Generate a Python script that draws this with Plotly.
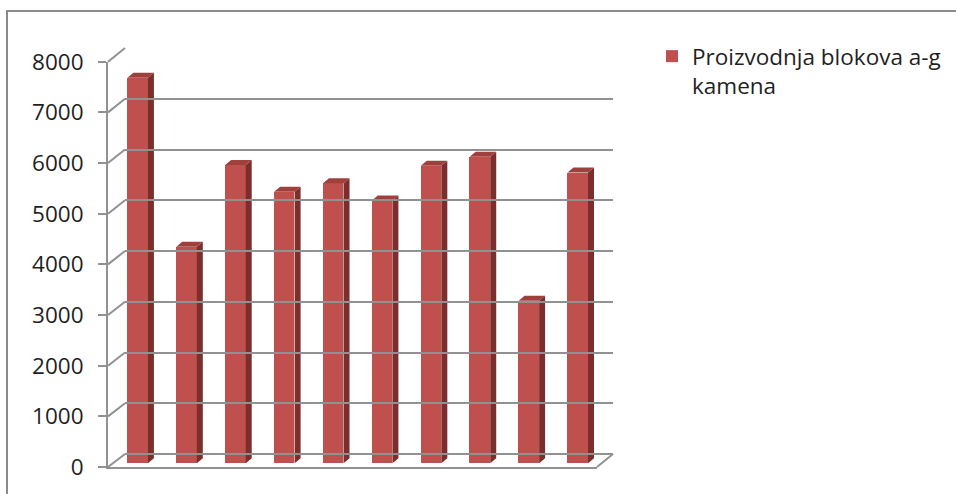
import plotly.graph_objects as go

# --- data -------------------------------------------------------------
categories = ["1", "2", "3", "4", "5", "6", "7", "8", "9", "10"]
production = [7610, 4275, 5890, 5360, 5530, 5185, 5875, 6050, 3210, 5740]
series_name = "Proizvodnja blokova a-g<br>kamena"
y_ticks = [0, 1000, 2000, 3000, 4000, 5000, 6000, 7000, 8000]

# --- page geometry (pixels) ---------------------------------------------
W, H = 956, 494
FONT = "Open Sans"


def fx(px):
    return px / W


def fy(py):
    return (H - py) / H


# floor / walls of the pseudo-3D box
FRONT_L, FRONT_R, FRONT_BOT, FRONT_TOP = 108, 597, 467, 61.7
BACK_L, BACK_R, BACK_BOT, BACK_TOP = 125, 613, 454, 48
# plane on which the column fronts stand
BAR_L, BAR_R, BAR_BOT = 113.2, 602.2, 463.3
PX_PER_UNIT_Y = (FRONT_BOT - FRONT_TOP) / y_ticks[-1]
BAR_TOP = BAR_BOT - PX_PER_UNIT_Y * y_ticks[-1]

BAR_W = 0.42
DEPTH_DX_PX, DEPTH_DY_PX = 6.0, 5.0

n = len(categories)
xpos = list(range(n))
ux = n / (BAR_R - BAR_L)          # x units per pixel
uy = y_ticks[-1] / (BAR_BOT - BAR_TOP)  # y units per pixel
ddx = DEPTH_DX_PX * ux
ddy = DEPTH_DY_PX * uy

FRONT_C = "#C0504D"
SIDE_C = "#7B2E2C"
TOP_C = "#A0403D"
GRID_C = "#919191"
TEXT_C = "#1F1F1F"

fig = go.Figure()

# column fronts
fig.add_trace(go.Bar(
    x=xpos, y=production, width=BAR_W, name=series_name,
    marker=dict(color=FRONT_C, line=dict(width=0)),
    xaxis="x", yaxis="y", showlegend=True,
))

# right-hand side faces and top caps of each column
side_x, side_y, cap_x, cap_y = [], [], [], []
for xc, v in zip(xpos, production):
    l, r = xc - BAR_W / 2, xc + BAR_W / 2
    side_x += [r, r + ddx, r + ddx, r, r, None]
    side_y += [0, ddy, v + ddy, v, 0, None]
    cap_x += [l, r, r + ddx, l + ddx, l, None]
    cap_y += [v, v, v + ddy, v + ddy, v, None]

fig.add_trace(go.Scatter(
    x=side_x, y=side_y, mode="lines", fill="toself", fillcolor=SIDE_C,
    line=dict(width=0, color=SIDE_C), hoverinfo="skip", showlegend=False,
    xaxis="x", yaxis="y",
))
fig.add_trace(go.Scatter(
    x=cap_x, y=cap_y, mode="lines", fill="toself", fillcolor=TOP_C,
    line=dict(width=0, color=TOP_C), hoverinfo="skip", showlegend=False,
    xaxis="x", yaxis="y",
))

# empty traces so the front-axis and back-wall subplots get drawn
for xa, ya in (("x2", "y2"), ("x3", "y3")):
    fig.add_trace(go.Scatter(x=[], y=[], xaxis=xa, yaxis=ya,
                             showlegend=False, hoverinfo="skip"))

# --- shapes: box outline, wall diagonals, floor edge --------------------
shapes = []
# outer chart frame
shapes.append(dict(type="rect", xref="paper", yref="paper",
                   x0=fx(7), y0=fy(H + 10), x1=fx(W + 10), y1=fy(11),
                   line=dict(color="#8A8A8A", width=2), layer="below"))
# left wall diagonals at each tick
front_step = (FRONT_BOT - FRONT_TOP) / y_ticks[-1]
back_step = (BACK_BOT - BACK_TOP) / y_ticks[-1]
for t in y_ticks:
    shapes.append(dict(type="line", xref="paper", yref="paper",
                       x0=fx(FRONT_L), y0=fy(FRONT_BOT - t * front_step),
                       x1=fx(BACK_L), y1=fy(BACK_BOT - t * back_step),
                       line=dict(color=GRID_C, width=2), layer="below"))
# right floor diagonal
shapes.append(dict(type="line", xref="paper", yref="paper",
                   x0=fx(FRONT_R), y0=fy(FRONT_BOT),
                   x1=fx(BACK_R), y1=fy(BACK_BOT),
                   line=dict(color=GRID_C, width=2), layer="below"))

fig.update_layout(
    width=W, height=H,
    margin=dict(l=0, r=0, t=0, b=0, autoexpand=False),
    paper_bgcolor="white", plot_bgcolor="rgba(0,0,0,0)",
    bargap=0,
    shapes=shapes,
    showlegend=True,
    legend=dict(
        x=fx(652), y=fy(35), xanchor="left", yanchor="top", valign="top",
        font=dict(family=FONT, size=22.5, color=TEXT_C),
        bgcolor="rgba(0,0,0,0)", borderwidth=0,
    ),
    # column plane
    xaxis=dict(domain=[fx(BAR_L), fx(BAR_R)], range=[-0.5, n - 0.5],
               visible=False, anchor="y"),
    yaxis=dict(domain=[fy(BAR_BOT), fy(BAR_TOP)], range=[0, y_ticks[-1]],
               visible=False, anchor="x"),
    # front axis with value labels
    xaxis2=dict(domain=[fx(FRONT_L), fx(FRONT_R)], range=[0, 1], anchor="y2",
                showline=True, linecolor=GRID_C, linewidth=2,
                showgrid=False, zeroline=False, showticklabels=False, ticks="",
                automargin=False),
    yaxis2=dict(domain=[fy(FRONT_BOT), fy(FRONT_TOP)], range=[0, y_ticks[-1]],
                anchor="x2", tickvals=y_ticks, ticktext=[str(t) for t in y_ticks],
                showline=True, linecolor=GRID_C, linewidth=2,
                ticks="outside", ticklen=8, tickwidth=2, tickcolor=GRID_C,
                ticklabelstandoff=10,
                showgrid=False, zeroline=False, automargin=False,
                tickfont=dict(family=FONT, size=22.5, color=TEXT_C)),
    # back wall with gridlines
    xaxis3=dict(domain=[fx(BACK_L), fx(BACK_R)], range=[0, 1], anchor="y3",
                showgrid=False, zeroline=False, showline=False,
                showticklabels=False, ticks="", automargin=False),
    yaxis3=dict(domain=[fy(BACK_BOT), fy(BACK_TOP)], range=[0, y_ticks[-1]],
                anchor="x3", tickvals=y_ticks, showticklabels=False,
                showgrid=True, gridcolor=GRID_C, gridwidth=2,
                zeroline=True, zerolinecolor=GRID_C, zerolinewidth=2,
                showline=False, ticks="", automargin=False),
)

fig.write_html("out.html")
